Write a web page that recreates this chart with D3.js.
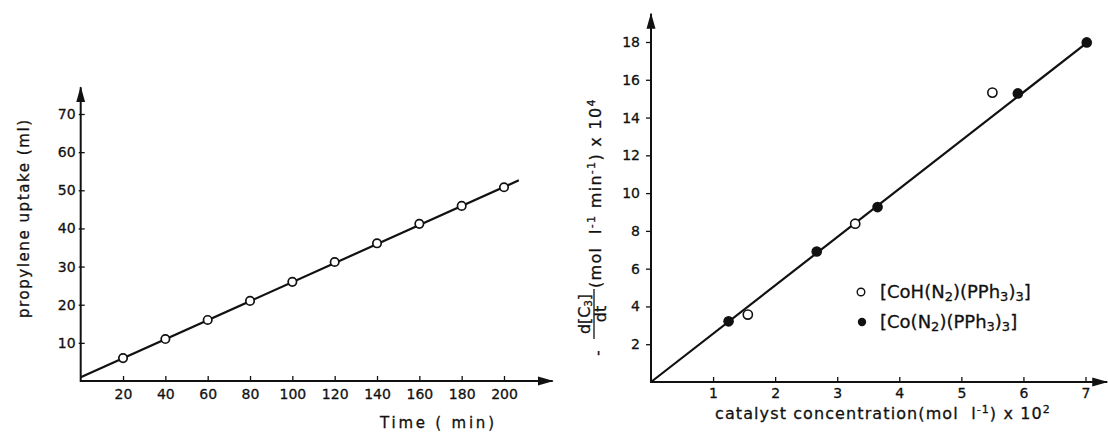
<!DOCTYPE html>
<html>
<head>
<meta charset="utf-8">
<script src="https://cdn.jsdelivr.net/npm/d3@7"></script>
<style>
  body { margin: 0; background: #fff; }
  svg text { font-family: "DejaVu Sans", sans-serif; fill: #111; stroke: #111; stroke-width: 0.3; }
</style>
</head>
<body>
<svg id="chart" width="1108" height="432"></svg>
<script>

  // left panel: propylene uptake vs time
  var timeMin = [20, 40, 60, 80, 100, 120, 140, 160, 180, 200];
  var uptakeMl = [6, 11, 16, 21, 26, 31.2, 36.1, 41.2, 45.9, 50.8];
  var uptakeFitX = [0, 207];
  var uptakeFitY = [1, 52.6];
  var timeTicks = [20, 40, 60, 80, 100, 120, 140, 160, 180, 200];
  var uptakeTicks = [10, 20, 30, 40, 50, 60, 70];

  // right panel: rate vs catalyst concentration
  var concCoH = [1.56, 3.29, 5.5];
  var rateCoH = [3.57, 8.38, 15.32];
  var concCo = [1.25, 2.67, 3.65, 5.91, 7.02];
  var rateCo = [3.21, 6.91, 9.26, 15.28, 17.98];
  var rateFitX = [0, 7.02];
  var rateFitY = [0, 17.95];
  var concTicks = [1, 2, 3, 4, 5, 6, 7];
  var rateTicks = [2, 4, 6, 8, 10, 12, 14, 16, 18];

  var svg = d3.select('#chart');
  var ink = '#111';

  svg.append('defs').append('marker')
      .attr('id', 'arrow')
      .attr('markerUnits', 'userSpaceOnUse')
      .attr('markerWidth', 18)
      .attr('markerHeight', 12)
      .attr('refX', 15)
      .attr('refY', 5)
      .attr('orient', 'auto')
    .append('path')
      .attr('d', 'M0,0.5 L16,5 L0,9.5 Z')
      .attr('fill', ink);

  function addAxes(g, x, y, xEnd, yEnd, xTicks, yTicks, yTickSize, yPad, xPad) {
    var xa = g.append('g')
        .attr('transform', 'translate(0,' + y(0) + ')')
        .call(d3.axisBottom(x).tickValues(xTicks).tickFormat(d3.format('d'))
          .tickSize(-5).tickPadding(xPad));
    var ya = g.append('g')
        .attr('transform', 'translate(' + x(0) + ',0)')
        .call(d3.axisLeft(y).tickValues(yTicks).tickFormat(d3.format('d'))
          .tickSize(yTickSize).tickPadding(yPad));
    [xa, ya].forEach(function (a) {
      a.select('.domain').remove();
      a.selectAll('line').attr('stroke', ink).attr('stroke-width', 1.3);
      a.selectAll('text')
        .attr('fill', ink)
        .style('font-size', '14px')
        .style('font-family', '"DejaVu Sans", sans-serif');
    });
    g.append('line')
        .attr('x1', x(0)).attr('y1', y(0))
        .attr('x2', x(xEnd)).attr('y2', y(0))
        .attr('stroke', ink).attr('stroke-width', 2)
        .attr('marker-end', 'url(#arrow)');
    g.append('line')
        .attr('x1', x(0)).attr('y1', y(0) + 1)
        .attr('x2', x(0)).attr('y2', y(yEnd))
        .attr('stroke', ink).attr('stroke-width', 2)
        .attr('marker-end', 'url(#arrow)');
    return ya;
  }

  // text with sub/superscript parts: {s, sub} or {s, sup}
  function richText(t, parts, big, small, subShift) {
    var shift = 0;
    subShift = subShift || 4;
    parts.forEach(function (p) {
      var target = p.sub ? subShift : (p.sup ? -6 : 0);
      t.append('tspan')
          .attr('dy', target - shift)
          .style('font-size', (p.sub || p.sup) ? small : big)
          .text(p.s);
      shift = target;
    });
    return t;
  }

  // ---------- left panel ----------
  var xL = d3.scaleLinear().domain([0, 200]).range([80.7, 504]);
  var yL = d3.scaleLinear().domain([0, 70]).range([381, 114]);
  var left = svg.append('g');

  var yaL = addAxes(left, xL, yL, 223, 77, timeTicks, uptakeTicks, 0, 5, 8);
  yaL.selectAll('.tick').append('line')
      .attr('x1', -2).attr('x2', 4)
      .attr('stroke', ink).attr('stroke-width', 1.3);

  left.append('path')
      .datum(d3.zip(uptakeFitX, uptakeFitY))
      .attr('fill', 'none')
      .attr('stroke', ink)
      .attr('stroke-width', 2.2)
      .attr('d', d3.line().x(function (d) { return xL(d[0]); }).y(function (d) { return yL(d[1]); }));

  left.selectAll('circle')
      .data(d3.zip(timeMin, uptakeMl))
    .enter().append('circle')
      .attr('cx', function (d) { return xL(d[0]); })
      .attr('cy', function (d) { return yL(d[1]); })
      .attr('r', 4.2)
      .attr('fill', '#fff')
      .attr('stroke', ink)
      .attr('stroke-width', 1.7);

  left.append('text')
      .attr('x', 380).attr('y', 428)
      .attr('textLength', 114)
      .style('font-size', '15px')
      .text('Time ( min)');

  left.append('text')
      .attr('transform', 'translate(29,219) rotate(-90)')
      .attr('text-anchor', 'middle')
      .attr('textLength', 198)
      .style('font-size', '15px')
      .text('propylene uptake (ml)');

  // ---------- right panel ----------
  var xR = d3.scaleLinear().domain([0, 7]).range([651, 1085.5]);
  var yR = d3.scaleLinear().domain([0, 18]).range([382, 42]);
  var right = svg.append('g');

  addAxes(right, xR, yR, 7.35, 19.5, concTicks, rateTicks, 5, 6, 6);

  right.append('path')
      .datum(d3.zip(rateFitX, rateFitY))
      .attr('fill', 'none')
      .attr('stroke', ink)
      .attr('stroke-width', 2.2)
      .attr('d', d3.line().x(function (d) { return xR(d[0]); }).y(function (d) { return yR(d[1]); }));

  right.selectAll('circle.open')
      .data(d3.zip(concCoH, rateCoH))
    .enter().append('circle')
      .attr('class', 'open')
      .attr('cx', function (d) { return xR(d[0]); })
      .attr('cy', function (d) { return yR(d[1]); })
      .attr('r', 4.6)
      .attr('fill', '#fff')
      .attr('stroke', ink)
      .attr('stroke-width', 1.6);

  right.selectAll('circle.filled')
      .data(d3.zip(concCo, rateCo))
    .enter().append('circle')
      .attr('class', 'filled')
      .attr('cx', function (d) { return xR(d[0]); })
      .attr('cy', function (d) { return yR(d[1]); })
      .attr('r', 5.3)
      .attr('fill', ink);

  // x title
  richText(right.append('text').attr('x', 715).attr('y', 419).style('letter-spacing', '1.1px'),
    [{ s: 'catalyst concentration(mol\u00a0\u00a0l' }, { s: '-1', sup: true }, { s: ') x 10' }, { s: '2', sup: true }],
    '16px', '11px');

  // y title (rotated, with fraction)
  var yt = right.append('g').attr('transform', 'rotate(-90)');
  yt.append('text')
      .attr('x', -353).attr('y', 603)
      .attr('text-anchor', 'middle')
      .style('font-size', '15px')
      .text('-');
  richText(yt.append('text').attr('x', -314).attr('y', 590).attr('text-anchor', 'middle'),
    [{ s: 'd[C' }, { s: '3', sub: true }, { s: ']' }], '16px', '10px', 2);
  yt.append('line')
      .attr('x1', -339).attr('x2', -289)
      .attr('y1', 594).attr('y2', 594)
      .attr('stroke', ink).attr('stroke-width', 1.3);
  yt.append('text')
      .attr('x', -314).attr('y', 606)
      .attr('text-anchor', 'middle')
      .style('font-size', '16px')
      .text('dt');
  richText(yt.append('text').attr('x', -288).attr('y', 601).style('letter-spacing', '1.3px'),
    [{ s: '(mol\u00a0\u00a0l' }, { s: '-1', sup: true }, { s: ' min' }, { s: '-1', sup: true },
     { s: ') x 10' }, { s: '4', sup: true }], '16px', '11px');

  // legend
  var legend = right.append('g');
  legend.append('circle')
      .attr('cx', 861).attr('cy', 292).attr('r', 3.8)
      .attr('fill', '#fff').attr('stroke', ink).attr('stroke-width', 1.4);
  legend.append('circle')
      .attr('cx', 862).attr('cy', 322).attr('r', 4.2)
      .attr('fill', ink);

  richText(legend.append('text').attr('x', 880).attr('y', 298),
    [{ s: '[CoH(N' }, { s: '2', sub: true }, { s: ')(PPh' }, { s: '3', sub: true }, { s: ')' }, { s: '3', sub: true }, { s: ']' }],
    '18px', '13px', 3);
  richText(legend.append('text').attr('x', 880).attr('y', 328),
    [{ s: '[Co(N' }, { s: '2', sub: true }, { s: ')(PPh' }, { s: '3', sub: true }, { s: ')' }, { s: '3', sub: true }, { s: ']' }],
    '18px', '13px', 3);

</script>
</body>
</html>
